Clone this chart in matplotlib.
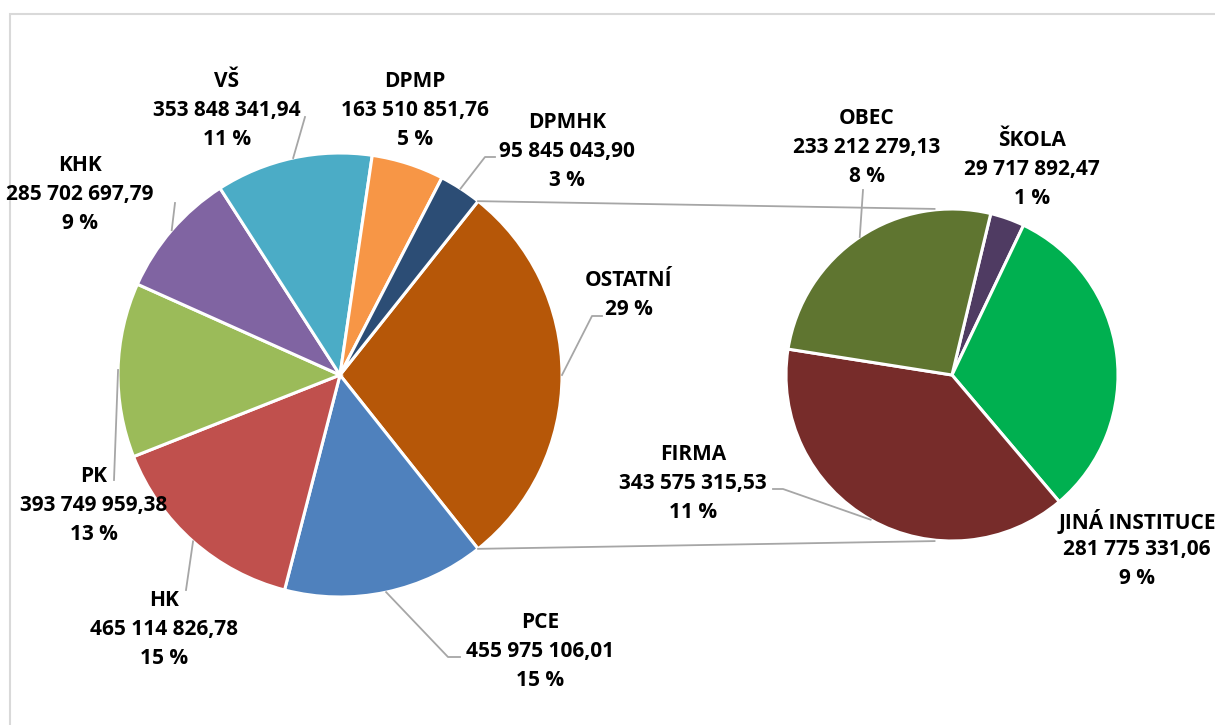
import numpy as np
import matplotlib
matplotlib.use("Agg")
import matplotlib.pyplot as plt
from matplotlib.patches import Rectangle

# ---- data ----
main_labels = ["OSTATNÍ", "PCE", "HK", "PK", "KHK", "VŠ", "DPMP", "DPMHK"]
main_values = [None, 455975106.01, 465114826.78, 393749959.38, 285702697.79,
               353848341.94, 163510851.76, 95845043.90]
main_colors = ["#B65708", "#4F81BD", "#C0504D", "#9BBB59", "#8064A2",
               "#4BACC6", "#F79646", "#2C4D75"]

sec_labels = ["ŠKOLA", "JINÁ INSTITUCE", "FIRMA", "OBEC"]
sec_values = [29717892.47, 281775331.06, 343575315.53, 233212279.13]
sec_colors = ["#4F3B62", "#00B050", "#772C2A", "#5F7530"]

ostatni = sum(sec_values)
main_values[0] = ostatni
total = sum(main_values)

W, H = 1215, 725
fig = plt.figure(figsize=(W / 100, H / 100), dpi=100)
ax = fig.add_axes([0, 0, 1, 1])

def Y(y):
    return H - y

C1 = (340, Y(375)); R1 = 222
C2 = (952, Y(375)); R2 = 166

start1 = ostatni / total * 360 / 2
ax.pie(main_values, colors=main_colors, startangle=start1, counterclock=False,
       center=C1, radius=R1, wedgeprops=dict(edgecolor="white", linewidth=2.2))
start2 = 76.5
ax.pie(sec_values, colors=sec_colors, startangle=start2, counterclock=False,
       center=C2, radius=R2, wedgeprops=dict(edgecolor="white", linewidth=2.2))

ax.set_xlim(0, W); ax.set_ylim(0, H)
ax.set_aspect("equal")
ax.axis("off")

# border
ax.add_patch(Rectangle((10, -20), W + 20, Y(14) + 20, fill=False,
                       edgecolor="#D9D9D9", linewidth=1.5))

def mid_angles(values, start):
    tot = sum(values)
    angs = []
    a = start
    for v in values:
        span = v / tot * 360
        angs.append(a - span / 2)
        a -= span
    return angs

def edge_pt(center, r, ang):
    t = np.deg2rad(ang)
    return center[0] + r * np.cos(t), center[1] + r * np.sin(t)

gray = "#A6A6A6"
# connector lines between pies
for a1, a2 in [(start1, 96), (-start1, -96)]:
    p1 = edge_pt(C1, R1, a1); p2 = edge_pt(C2, R2 + 1, a2)
    ax.plot([p1[0], p2[0]], [p1[1], p2[1]], color=gray, lw=1.3)

def fmt(v):
    s = f"{v:,.2f}"
    return s.replace(",", " ").replace(".", ",")

def pct(v):
    return f"{round(v / total * 100):.0f} %"

font = dict(family=["Open Sans", "DejaVu Sans"], fontweight="bold",
            fontsize=15, color="#000000")

def label(x, y_mid, lines, step=29):
    n = len(lines)
    for i, t in enumerate(lines):
        yy = y_mid + (i - (n - 1) / 2) * step
        ax.text(x, Y(yy), t, ha="center", va="center", **font)

# label centers (image coordinates) and leader elbow points
main_pos = {
    "OSTATNÍ": (629, 295, [(592, 316), (602, 316)]),
    "PCE": (540, 651, [(448, 657), (460, 657)]),
    "HK": (164, 629, [(186, 590)]),
    "PK": (94, 505, [(114, 480)]),
    "KHK": (80, 194, [(175, 203)]),
    "VŠ": (227, 110, [(305, 117)]),
    "DPMP": (415, 110, []),
    "DPMHK": (567, 151, [(485, 157), (495, 157)]),
}
ang1 = mid_angles(main_values, start1)
for lab, v, a in zip(main_labels, main_values, ang1):
    x, y, pts = main_pos[lab]
    if lab == "OSTATNÍ":
        label(x, y, [lab, pct(v)])
    else:
        label(x, y, [lab, fmt(v), pct(v)])
    if pts:
        p0 = edge_pt(C1, R1, a)
        xs = [p0[0]] + [p[0] for p in pts]
        ys = [p0[1]] + [Y(p[1]) for p in pts]
        ax.plot(xs, ys, color=gray, lw=1.3)

sec_pos = {
    "ŠKOLA": (1032, 169, []),
    "JINÁ INSTITUCE": (1137, 550, []),
    "FIRMA": (693, 483, [(783, 489), (773, 489)]),
    "OBEC": (867, 147, [(863, 190)]),
}
ang2 = mid_angles(sec_values, start2)
for lab, v, a in zip(sec_labels, sec_values, ang2):
    x, y, pts = sec_pos[lab]
    label(x, y, [lab, fmt(v), pct(v)])
    if pts:
        p0 = edge_pt(C2, R2, a)
        xs = [p0[0]] + [p[0] for p in pts]
        ys = [p0[1]] + [Y(p[1]) for p in pts]
        ax.plot(xs, ys, color=gray, lw=1.3)

fig.savefig("out.png", dpi=100)
